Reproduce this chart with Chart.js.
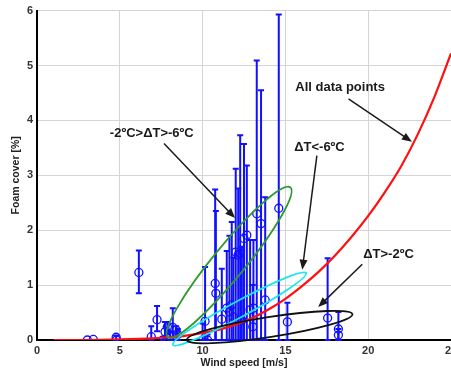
<!DOCTYPE html>
<html>
<head>
<meta charset="utf-8">
<script src="https://cdn.jsdelivr.net/npm/chart.js@4.4.0/dist/chart.umd.min.js"></script>
<style>
  html, body { margin: 0; padding: 0; background: #fff; overflow: hidden; }
  #wrap { width: 451px; height: 371px; overflow: hidden; position: relative; }
  #chart { display: block; }
</style>
</head>
<body>
<div id="wrap"><canvas id="chart" width="480" height="371"></canvas></div>
<script>
// fitted curve through all data points
const fitWind = [1, 3, 5, 7, 8, 9, 10, 11, 12, 13, 14, 15, 16, 17, 18, 19, 20, 21, 22, 23, 24, 25];
const fitFoam = [0, 0, 0.01, 0.03, 0.05, 0.08, 0.13, 0.19, 0.28, 0.4, 0.56, 0.75, 0.98, 1.24, 1.54, 1.88, 2.26, 2.69, 3.17, 3.75, 4.43, 5.22];

// measurements: wind speed, mean foam cover, error bar low / high
const obsWind = [3.04, 3.4, 4.78, 4.8, 6.15, 6.9, 7.25, 7.6, 7.73, 7.87, 8.04, 8.2, 8.4, 8.5,
  10.0, 10.15, 10.3, 10.76, 10.8, 11.16, 11.46, 11.62, 11.76, 11.86, 12.0, 12.15, 12.27, 12.37,
  12.5, 12.67, 12.87, 13.03, 13.07, 13.27, 13.53, 13.78, 14.6, 15.12, 17.55, 18.2, 18.2];
const obsFoam = [0, 0.01, 0.05, 0, 1.23, 0.06, 0.37, 0, 0.15, 0.24, 0.06, 0.23, 0.18, 0.1,
  0, 0.34, 0, 1.03, 0.85, 0.38, 0.58, 0.51, 0.64, 0.42, 1.6, 1.55, 1.58, 0.36,
  1.85, 1.91, 0.55, 0.24, 0.58, 2.3, 2.12, 0.73, 2.4, 0.33, 0.4, 0.2, 0.09];
const obsLow = [0, 0.01, 0, 0, 0.85, 0, 0.16, 0, 0.02, 0.1, 0, 0, 0.05, 0,
  0, 0, 0, 0, 0, 0, 0, 0, 0, 0, 0, 0, 0, 0,
  0, 0, 0, 0, 0, 0, 0, 0, 0, 0, 0, 0, 0];
const obsHigh = [0, 0.01, 0.08, 0, 1.63, 0.25, 0.62, 0.05, 0.33, 0.33, 0.15, 0.58, 0.25, 0.2,
  0.3, 1.33, 0.1, 2.74, 2.35, 1.3, 1.62, 1.9, 2.15, 1.5, 3.12, 2.76, 3.73, 1.7,
  3.57, 3.18, 1.82, 1.0, 1.82, 5.09, 4.55, 2.6, 5.93, 0.68, 1.49, 0.51, 0.2];

const xTicks = [0, 5, 10, 15, 20, 25];
const yTicks = [0, 1, 2, 3, 4, 5, 6];

// grouping ellipses (ends of the long axis in data units, half width in px)
const groups = [
  { color: '#2e9a2e', from: [7.9, 0.05], to: [15.3, 2.78], half: 16 },
  { color: '#19e6f0', from: [8.2, -0.09], to: [16.25, 1.22], half: 8 },
  { color: '#111111', from: [9.05, 0.0], to: [19.05, 0.47], half: 10 }
];

// labels with their pointer arrows
const notes = [
  { text: 'All data points', at: [15.6, 4.6], from: [18.81, 4.39], to: [22.64, 3.61] },
  { text: 'ΔT<-6ºC', at: [15.53, 3.51], from: [16.9, 3.36], to: [16.02, 1.28] },
  { text: '-2ºC>ΔT>-6ºC', at: [4.4, 3.76], from: [7.67, 3.58], to: [11.96, 2.22] },
  { text: 'ΔT>-2ºC', at: [19.7, 1.55], from: [19.64, 1.38], to: [16.98, 0.6] }
];

const drawExtras = {
  id: 'drawExtras',
  beforeDatasetsDraw(chart) {
    const { ctx, scales: { x, y } } = chart;
    ctx.save();
    ctx.strokeStyle = '#1010ff';
    ctx.lineWidth = 2;
    obsWind.forEach((w, i) => {
      if (obsHigh[i] - obsLow[i] < 0.02) return;
      const px = x.getPixelForValue(w);
      const top = y.getPixelForValue(obsHigh[i]);
      const bot = y.getPixelForValue(obsLow[i]);
      ctx.beginPath();
      ctx.moveTo(px, top); ctx.lineTo(px, bot);
      ctx.moveTo(px - 3, top); ctx.lineTo(px + 3, top);
      ctx.moveTo(px - 3, bot); ctx.lineTo(px + 3, bot);
      ctx.stroke();
    });
    ctx.restore();
  },
  afterDatasetsDraw(chart) {
    const { ctx, scales: { x, y } } = chart;
    const P = (p) => [x.getPixelForValue(p[0]), y.getPixelForValue(p[1])];
    ctx.save();
    ctx.lineWidth = 1.8;
    groups.forEach(g => {
      const [x1, y1] = P(g.from);
      const [x2, y2] = P(g.to);
      const a = Math.hypot(x2 - x1, y2 - y1) / 2;
      ctx.strokeStyle = g.color;
      ctx.beginPath();
      ctx.ellipse((x1 + x2) / 2, (y1 + y2) / 2, a, g.half, Math.atan2(y2 - y1, x2 - x1), 0, Math.PI * 2);
      ctx.stroke();
    });

    ctx.strokeStyle = '#1a1a1a';
    ctx.fillStyle = '#1a1a1a';
    ctx.lineWidth = 1.5;
    notes.forEach(n => {
      const [sx, sy] = P(n.from);
      const [tx, ty] = P(n.to);
      const ang = Math.atan2(ty - sy, tx - sx);
      ctx.beginPath();
      ctx.moveTo(sx, sy);
      ctx.lineTo(tx - 6 * Math.cos(ang), ty - 6 * Math.sin(ang));
      ctx.stroke();
      ctx.save();
      ctx.translate(tx, ty);
      ctx.rotate(ang);
      ctx.beginPath();
      ctx.moveTo(0, 0);
      ctx.lineTo(-10, -4);
      ctx.lineTo(-10, 4);
      ctx.closePath();
      ctx.fill();
      ctx.restore();

      const [lx, ly] = P(n.at);
      ctx.font = 'bold 13px "Liberation Sans", Arial, sans-serif';
      ctx.textAlign = 'left';
      ctx.textBaseline = 'middle';
      ctx.fillText(n.text, lx, ly);
    });
    ctx.restore();
  }
};

new Chart(document.getElementById('chart'), {
  type: 'line',
  data: {
    datasets: [
      {
        label: 'All data points',
        data: fitWind.map((w, i) => ({ x: w, y: fitFoam[i] })),
        borderColor: '#ff1010',
        borderWidth: 2.2,
        pointRadius: 0,
        cubicInterpolationMode: 'monotone',
        fill: false
      },
      {
        type: 'scatter',
        label: 'Foam cover',
        data: obsWind.map((w, i) => ({ x: w, y: obsFoam[i] })),
        borderColor: '#1010ff',
        backgroundColor: 'rgba(0,0,0,0)',
        borderWidth: 1.3,
        pointRadius: 4,
        pointHoverRadius: 4
      }
    ]
  },
  options: {
    responsive: false,
    animation: false,
    events: [],
    layout: { padding: { left: 0, right: 29, top: 10, bottom: 0 } },
    plugins: { legend: { display: false }, tooltip: { enabled: false } },
    scales: {
      x: {
        type: 'linear',
        min: 0, max: 25,
        afterBuildTicks: (s) => { s.ticks = xTicks.map(v => ({ value: v })); },
        afterFit: (s) => { s.height = 31; },
        grid: { color: '#d4d4d4', lineWidth: 1, drawTicks: false },
        border: { color: '#000', width: 2 },
        ticks: { padding: 4, color: '#333', font: { family: '"Liberation Sans", Arial, sans-serif', size: 11, weight: 'bold' } },
        title: {
          display: true, text: 'Wind speed [m/s]', color: '#222',
          padding: { top: 0, bottom: 2 },
          font: { family: '"Liberation Sans", Arial, sans-serif', size: 10.5, weight: 'bold' }
        }
      },
      y: {
        min: 0, max: 6,
        afterBuildTicks: (s) => { s.ticks = yTicks.map(v => ({ value: v })); },
        afterFit: (s) => { s.width = 37; },
        grid: { color: '#d4d4d4', lineWidth: 1, drawTicks: false },
        border: { color: '#000', width: 2 },
        ticks: { padding: 4, color: '#333', font: { family: '"Liberation Sans", Arial, sans-serif', size: 11, weight: 'bold' } },
        title: {
          display: true, text: 'Foam cover [%]', color: '#222',
          padding: { top: 10, bottom: 0 },
          font: { family: '"Liberation Sans", Arial, sans-serif', size: 10.5, weight: 'bold' }
        }
      }
    }
  },
  plugins: [drawExtras]
});
</script>
</body>
</html>
